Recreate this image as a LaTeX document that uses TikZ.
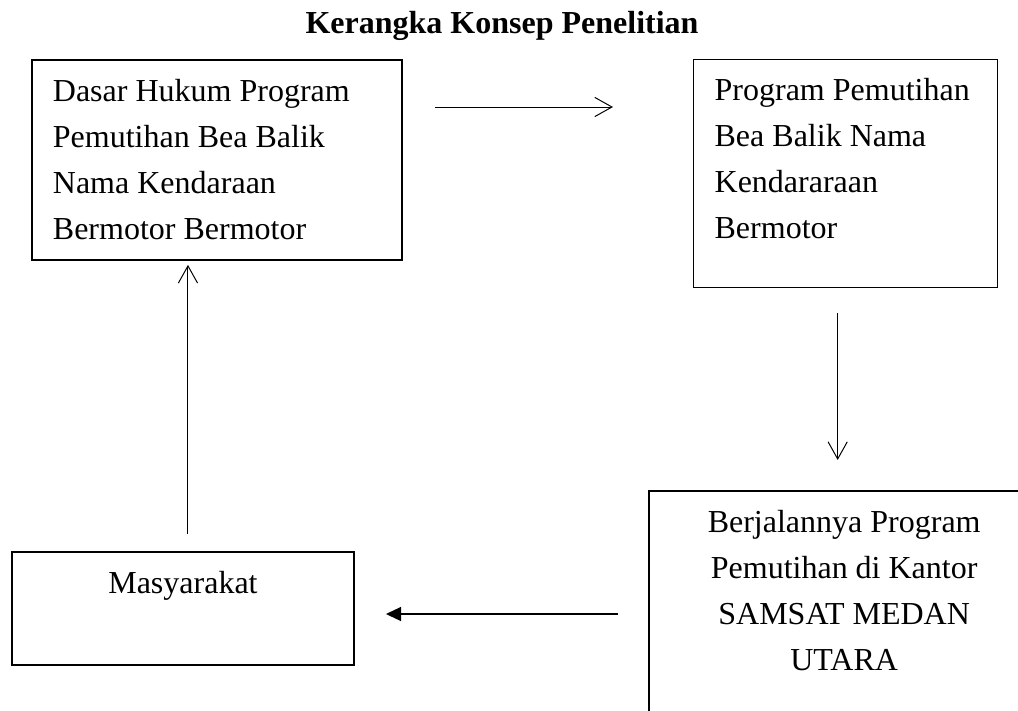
\documentclass[tikz,border=0pt]{standalone}
\usepackage{fontspec}
\setmainfont{Liberation Serif}
\usetikzlibrary{arrows.meta, positioning, calc}
\newcommand{\isifont}{\fontsize{22.76pt}{32.72pt}\selectfont}

\begin{document}
\begin{tikzpicture}[x=0.025cm, y=-0.025cm, >=Latex,
    kotak/.style={draw, line width=1.3pt, inner xsep=0.525cm, inner ysep=0.225cm, anchor=north west, font=\isifont},
    panah/.style={line width=0.7pt, -{Straight Barb[length=0.43cm, width=0.48cm]}},
    panahtebal/.style={line width=1.1pt, -{Triangle[length=0.38cm, width=0.35cm]}}]
      \useasboundingbox (0,0) rectangle (1018,710);
      \clip (0,0) rectangle (1018,710);

      \node[font=\isifont\bfseries, anchor=base] (judul) at (502,33) {Kerangka Konsep Penelitian};

      \node[kotak] (dasar) at (31,59) {\parbox[c][4.55cm][t]{8.2cm}{\raggedright\strut Dasar Hukum Program\\\strut Pemutihan Bea Balik\\\strut Nama Kendaraan\\\strut Bermotor Bermotor}};
      \node[kotak, line width=0.9pt] (program) at (693,59) {\parbox[c][5.25cm][t]{6.55cm}{\raggedright\strut Program Pemutihan\\\strut Bea Balik Nama\\\strut Kendararaan\\\strut Bermotor}};
      \node[kotak, line width=1.6pt] (berjalan) at (648,490) {\parbox[c][6.05cm][t]{8.7cm}{\centering\strut Berjalannya Program\\\strut Pemutihan di Kantor\\\strut SAMSAT MEDAN\\\strut UTARA}};
      \node[kotak] (masyarakat) at (11,551) {\parbox[c][2.375cm][t]{7.5cm}{\centering\strut Masyarakat}};

      \coordinate (p1a) at ([shift={(32,48)}]dasar.north east);
      \coordinate (p2a) at ([shift={(-8,25)}]program.south);
      \coordinate (p3a) at ([shift={(-30,124)}]berjalan.north west);
      \coordinate (p4a) at ([shift={(5,-17)}]masyarakat.north);

      \draw[panah, shorten >=2cm] (p1a) -- (p1a -| program.west);
      \draw[panah, shorten >=0.75cm] (p2a) -- (p2a |- berjalan.north);
      \draw[panahtebal, shorten >=0.775cm] (p3a) -- (p3a -| masyarakat.east);
      \draw[panah, shorten >=0.1cm] (p4a) -- (p4a |- dasar.south);
    \end{tikzpicture}
\end{document}
